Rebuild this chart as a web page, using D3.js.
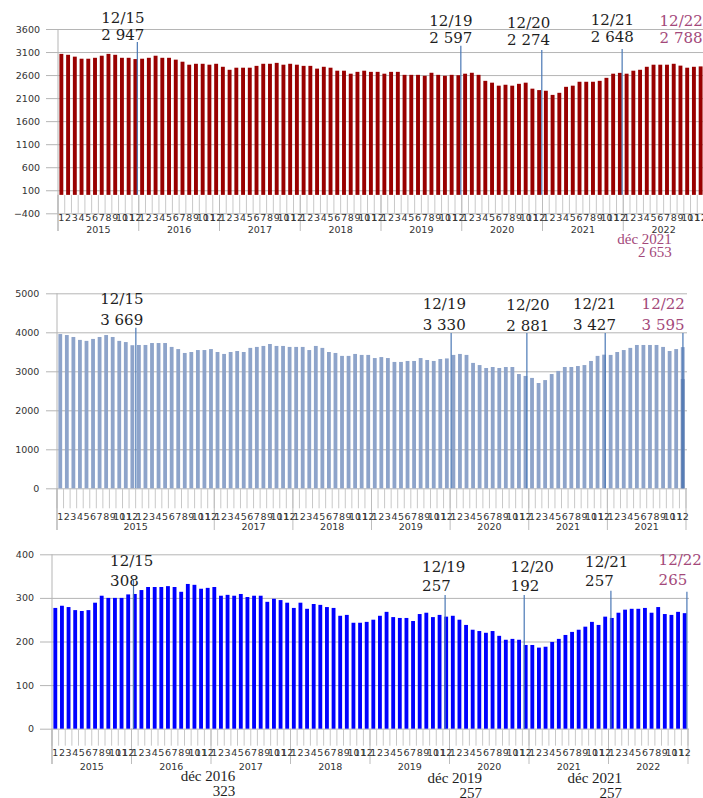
<!DOCTYPE html>
<html>
<head>
<meta charset="utf-8">
<script src="https://cdn.jsdelivr.net/npm/d3@7"></script>
<style>
  body { margin: 0; background: #fff; }
  svg { display: block; }
  text { font-family: "DejaVu Sans", sans-serif; }
  .note { font-family: "DejaVu Serif", serif; font-size: 15px; }
  .sub-note { font-family: "Liberation Serif", serif; font-size: 15px; }
</style>
</head>
<body>
<svg id="chart" width="703" height="798"></svg>
<script>
// categories
const years = ['2015', '2016', '2017', '2018', '2019', '2020', '2021', '2022'];
const monthLabels = ['1', '2', '3', '4', '5', '6', '7', '8', '9', '10', '11', '12'];
const categories = years.flatMap(y => monthLabels.map(m => y + '-' + m));

// top chart (dark red)
const series1 = [
  3060, 3040, 3000, 2955, 2955, 2975, 3020, 3060, 3040, 2975, 2975, 2947,
  2955, 2975, 3020, 2975, 2975, 2935, 2890, 2825, 2845, 2845, 2825, 2845,
  2780, 2715, 2760, 2760, 2760, 2800, 2845, 2845, 2865, 2825, 2845, 2825,
  2800, 2800, 2740, 2780, 2760, 2695, 2695, 2630, 2670, 2695, 2670, 2670,
  2630, 2670, 2670, 2605, 2605, 2605, 2585, 2650, 2605, 2585, 2605, 2597,
  2630, 2650, 2605, 2475, 2435, 2370, 2390, 2370, 2410, 2435, 2305, 2274,
  2260, 2170, 2215, 2345, 2370, 2455, 2455, 2455, 2475, 2540, 2630, 2648,
  2630, 2695, 2715, 2780, 2825, 2825, 2825, 2845, 2805, 2760, 2780, 2788
];
// middle chart (light blue)
const series2 = [
  3955, 3930, 3880, 3805, 3780, 3830, 3880, 3930, 3880, 3780, 3750, 3669,
  3675, 3675, 3725, 3725, 3725, 3625, 3570, 3470, 3495, 3545, 3545, 3570,
  3495, 3445, 3495, 3520, 3495, 3600, 3625, 3650, 3700, 3650, 3650, 3625,
  3625, 3625, 3545, 3650, 3600, 3495, 3470, 3395, 3395, 3445, 3420, 3420,
  3340, 3365, 3340, 3240, 3240, 3265, 3265, 3340, 3290, 3265, 3315, 3330,
  3420, 3445, 3420, 3215, 3160, 3085, 3110, 3085, 3110, 3110, 2930, 2881,
  2830, 2700, 2775, 2930, 3010, 3110, 3110, 3135, 3160, 3265, 3395, 3427,
  3420, 3495, 3545, 3600, 3675, 3675, 3675, 3675, 3625, 3520, 3570, 3620
];
const series2Partial = { cat: '2022-12', value: 2800 };
// bottom chart (blue)
const series3 = [
  277, 282, 279, 272, 270, 272, 289, 305, 300, 300, 300, 308,
  309, 318, 325, 325, 325, 327, 325, 314, 332, 330, 321, 323,
  325, 305, 307, 305, 309, 302, 305, 305, 291, 298, 295, 289,
  277, 289, 275, 286, 284, 279, 277, 259, 261, 243, 243, 245,
  250, 259, 268, 256, 254, 254, 247, 263, 266, 256, 261, 257,
  259, 250, 238, 227, 224, 220, 224, 213, 204, 206, 204, 192,
  192, 186, 188, 199, 206, 215, 222, 227, 234, 245, 238, 257,
  254, 266, 273, 275, 275, 277, 266, 279, 263, 261, 268, 265
];

// y ticks
const ticks1 = [-400, 100, 600, 1100, 1600, 2100, 2600, 3100, 3600];
const ticks2 = [0, 1000, 2000, 3000, 4000, 5000];
const ticks3 = [0, 100, 200, 300, 400];

// year groups under the months (middle chart merges 2015-16 and says 2021 twice)
const yearLabels1 = years;
const yearSizes1 = [12, 12, 12, 12, 12, 12, 12, 12];
const yearLabels2 = ['2015', '2017', '2018', '2019', '2020', '2021', '2021'];
const yearSizes2 = [24, 12, 12, 12, 12, 12, 12];

// december call-outs
const noteCats = ['2015-12', '2019-12', '2020-12', '2021-12', '2022-12'];
const noteLabels = ['12/15', '12/19', '12/20', '12/21', '12/22'];
const notes1 = [2947, 2597, 2274, 2648, 2788];
const notes2 = [3669, 3330, 2881, 3427, 3595];
const notes3 = [308, 257, 192, 257, 265];

const subCats1 = ['2021-12'];
const subLabels1 = ['déc 2021'];
const subValues1 = [2653];
const subCats3 = ['2016-12', '2019-12', '2021-12'];
const subLabels3 = ['déc 2016', 'déc 2019', 'déc 2021'];
const subValues3 = [323, 257, 257];

const fr = d3.formatLocale({ decimal: ',', thousands: ' ', grouping: [3], currency: ['', ' €'] });
const fmtNote = fr.format(',d');

const PINK = '#a3487a';
const INK = '#1e1e1e';
const MARK = '#4a78b5';
const GRID = '#b5b5b5';
const LABEL = '#333';
const FS = 9.5;

const svg = d3.select('#chart');

const panels = [
  {
    values: series1, ticks: ticks1, domain: [-400, 3600], color: '#990000',
    yTop: 29, yBottom: 213.3, x0: 58, x1: 704, gridX: 46, labelPad: 6,
    catTickLen: 18, monthBase: 221, yearBase: 233, sepBottom: 231,
    yearLabels: yearLabels1, yearSizes: yearSizes1, notes: notes1,
    noteDx: [-36, -31, -34, -31, -43], noteY: [23, 26, 28, 25, 26], noteGap: 17,
    lineTop: [42, 45.7, 50, 49, null], lineDx: [0, 0.5, 0.7, 0.3, 0],
    subCats: subCats1, subLabels: subLabels1, subValues: subValues1,
    subDx: [50], subY: [244], subGap: 13, subColor: PINK
  },
  {
    values: series2, ticks: ticks2, domain: [0, 5000], color: '#8ea4ca',
    yTop: 293.3, yBottom: 488.3, x0: 57, x1: 686, gridX: 46, labelPad: 6.7,
    catTickLen: 20, monthBase: 520.5, yearBase: 529.5, sepBottom: 530,
    yearLabels: yearLabels2, yearSizes: yearSizes2, notes: notes2,
    noteDx: [-34, -26, -21, -33, -43], noteY: [304, 309, 310, 309, 309], noteGap: 20.5,
    lineTop: [327.7, 333, 333, 333, 333], lineDx: [1.6, 2.4, -0.5, -0.8, -1.7],
    partial: series2Partial, partialColor: '#6a86b6',
    subCats: [], subLabels: [], subValues: []
  },
  {
    values: series3, ticks: ticks3, domain: [0, 400], color: '#0000ff',
    yTop: 554.3, yBottom: 728.7, x0: 52, x1: 688, gridX: 40, labelPad: 6,
    catTickLen: 17, monthBase: 756.5, yearBase: 770, sepBottom: 764,
    yearLabels: yearLabels1, yearSizes: yearSizes1, notes: notes3,
    noteDx: [-20, -26, -17, -22, -28], noteY: [566, 571.7, 571.7, 566.7, 565], noteGap: 19.5,
    lineTop: [580, 595, 595, 590.7, 591.7], lineDx: [3.4, -3, -3.4, 3.8, 0.3],
    subCats: subCats3, subLabels: subLabels3, subValues: subValues3,
    subDx: [25.6, 34, 15], subY: [781, 783, 783], subGap: 15, subColor: INK
  }
];

panels.forEach(drawPanel);

function drawPanel(p) {
  const n = categories.length;
  const x = d3.scaleBand().domain(categories).range([p.x0, p.x1])
    .paddingInner(0.42).paddingOuter(0.21);
  const y = d3.scaleLinear().domain(p.domain).range([p.yBottom, p.yTop]);
  const gap = x.step() - x.bandwidth();
  const bound = i => i < n ? x(categories[i]) - gap / 2 : x(categories[n - 1]) + x.bandwidth() + gap / 2;
  const g = svg.append('g');

  // horizontal grid + value labels
  const yAxis = d3.axisLeft(y).tickValues(p.ticks)
    .tickSize(-(p.x1 + 1 - p.gridX)).tickPadding(p.labelPad).tickFormat(d3.format('d'));
  g.append('g')
    .attr('transform', `translate(${p.gridX},0)`)
    .call(yAxis)
    .call(a => a.select('.domain').remove())
    .call(a => a.selectAll('line').attr('stroke', GRID))
    .call(a => a.selectAll('text').attr('fill', LABEL).style('font-size', FS + 'px'));

  const y0 = y(0);

  // category ticks
  g.append('g').selectAll('line')
    .data(d3.range(n + 1))
    .join('line')
    .attr('x1', i => bound(i)).attr('x2', i => bound(i))
    .attr('y1', y0).attr('y2', y0 + p.catTickLen)
    .attr('stroke', '#c8c8c8');

  // year separators
  const starts = [0];
  p.yearSizes.forEach(s => starts.push(starts[starts.length - 1] + s));
  g.append('g').selectAll('line')
    .data(starts)
    .join('line')
    .attr('x1', i => bound(i)).attr('x2', i => bound(i))
    .attr('y1', y0).attr('y2', p.sepBottom)
    .attr('stroke', '#bdbdbd');

  // vertical axis line
  g.append('line')
    .attr('x1', p.x0).attr('x2', p.x0)
    .attr('y1', p.yTop).attr('y2', p.sepBottom)
    .attr('stroke', GRID);

  // bars
  g.append('g').selectAll('rect')
    .data(p.values)
    .join('rect')
    .attr('x', (d, i) => x(categories[i]))
    .attr('y', d => y(Math.max(0, d)))
    .attr('width', x.bandwidth())
    .attr('height', d => Math.abs(y(d) - y0))
    .attr('fill', p.color);

  if (p.partial) {
    g.append('rect')
      .attr('x', x(p.partial.cat))
      .attr('y', y(p.partial.value))
      .attr('width', x.bandwidth())
      .attr('height', y0 - y(p.partial.value))
      .attr('fill', p.partialColor);
  }

  // month labels
  const xAxis = d3.axisBottom(x)
    .tickFormat(c => c.split('-')[1])
    .tickSize(0)
    .tickPadding(p.monthBase - y0 - 0.71 * FS);
  g.append('g')
    .attr('transform', `translate(0,${y0})`)
    .call(xAxis)
    .call(a => a.select('.domain').remove())
    .call(a => a.selectAll('text').attr('fill', LABEL).style('font-size', FS + 'px'));

  // year labels
  g.append('g').selectAll('text')
    .data(p.yearLabels)
    .join('text')
    .attr('x', (d, i) => (bound(starts[i]) + bound(starts[i + 1])) / 2)
    .attr('y', p.yearBase)
    .attr('text-anchor', 'middle')
    .attr('fill', LABEL)
    .style('font-size', FS + 'px')
    .text(d => d);

  // december markers
  noteCats.forEach((c, i) => {
    const right = x(c) + x.bandwidth();
    const col = i === noteCats.length - 1 ? PINK : INK;
    if (p.lineTop[i] != null) {
      g.append('line')
        .attr('x1', right + p.lineDx[i]).attr('x2', right + p.lineDx[i])
        .attr('y1', p.lineTop[i]).attr('y2', y0)
        .attr('stroke', MARK).attr('stroke-width', 1.2);
    }
    g.append('text').attr('class', 'note')
      .attr('x', right + p.noteDx[i]).attr('y', p.noteY[i])
      .attr('fill', col).text(noteLabels[i]);
    g.append('text').attr('class', 'note')
      .attr('x', right + p.noteDx[i]).attr('y', p.noteY[i] + p.noteGap)
      .attr('fill', col).text(fmtNote(p.notes[i]));
  });

  // notes under the axis
  p.subCats.forEach((c, i) => {
    const right = x(c) + x.bandwidth() + p.subDx[i];
    g.append('text').attr('class', 'sub-note')
      .attr('x', right).attr('y', p.subY[i])
      .attr('text-anchor', 'end').attr('fill', p.subColor)
      .text(p.subLabels[i]);
    g.append('text').attr('class', 'sub-note')
      .attr('x', right).attr('y', p.subY[i] + p.subGap)
      .attr('text-anchor', 'end').attr('fill', p.subColor)
      .text(fmtNote(p.subValues[i]));
  });
}
</script>
</body>
</html>
